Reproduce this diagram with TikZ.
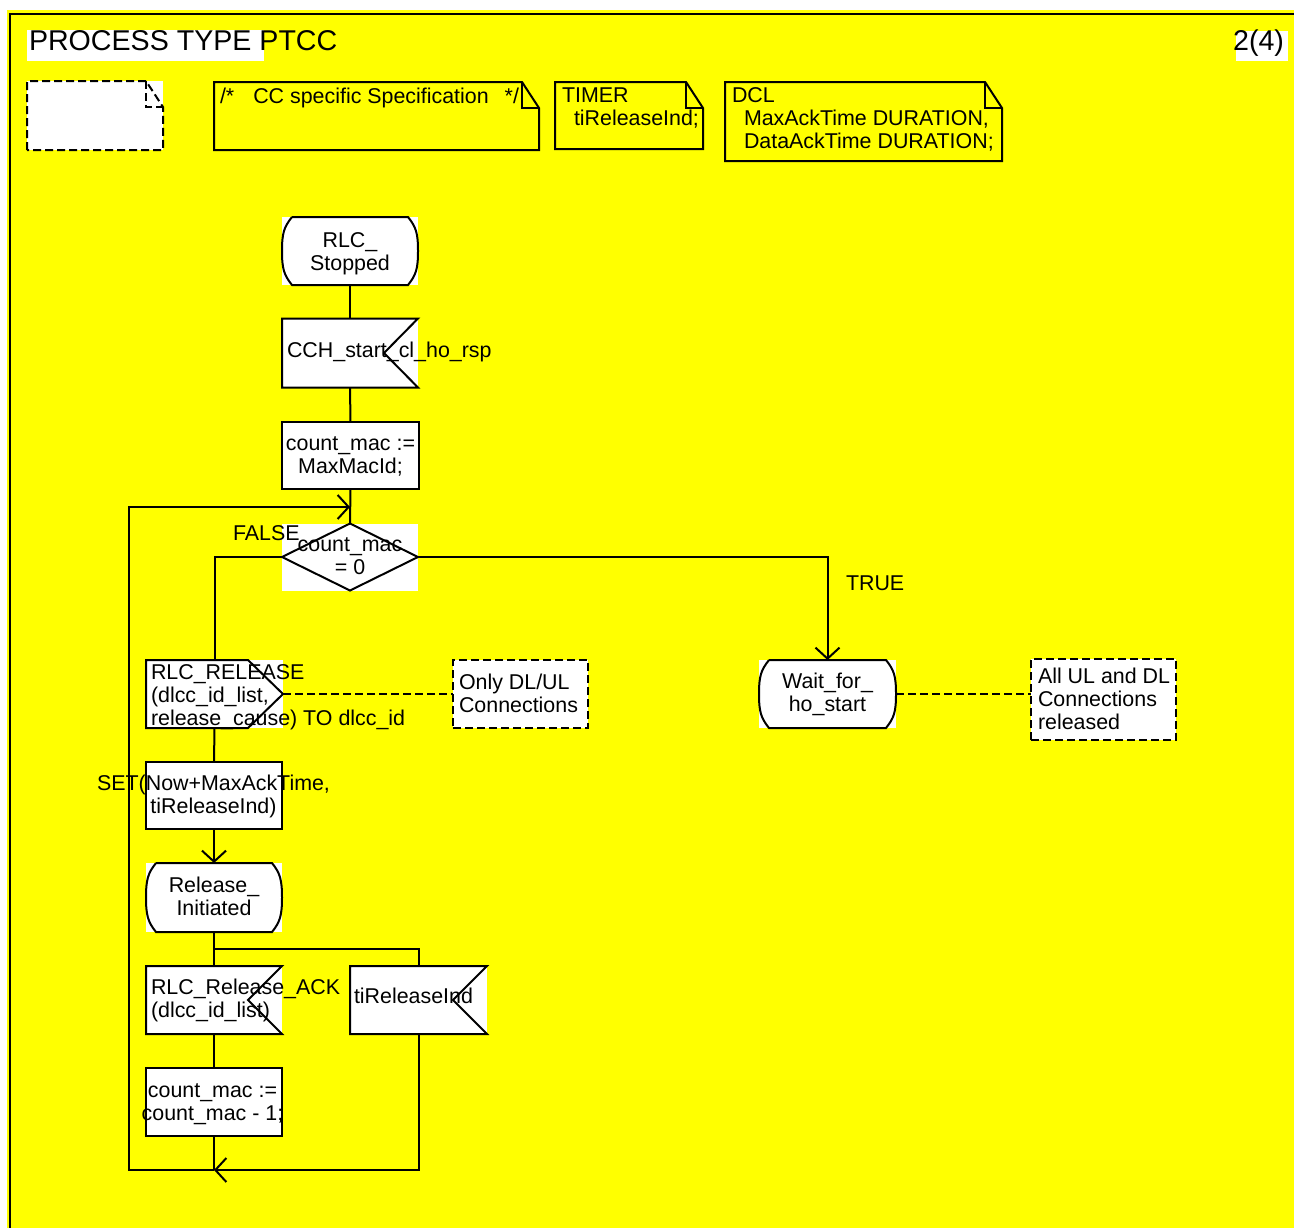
\documentclass[tikz,border=0pt]{standalone}
\usepackage{fontspec}
\setmainfont{Liberation Sans}
\usetikzlibrary{arrows.meta,calc}
\definecolor{bgyellow}{RGB}{255,255,0}
\newcommand\sdlstate[1]{\draw ($(#1.north west)+(10,0)$) -- ($(#1.north east)+(-10,0)$) .. controls +(8,10) and +(0,-18) .. (#1.east) .. controls +(0,18) and +(8,-10) .. ($(#1.south east)+(-10,0)$) -- ($(#1.south west)+(10,0)$) .. controls +(-8,-10) and +(0,18) .. (#1.west) .. controls +(0,-18) and +(-8,10) .. ($(#1.north west)+(10,0)$);}
\newcommand\sdlinput[1]{\draw (#1.north west) -- (#1.north east) -- ($(#1.east)+(-34,0)$) -- (#1.south east) -- (#1.south west) -- cycle;}
\newcommand\sdloutput[1]{\draw (#1.north west) -- ($(#1.north east)+(-35,0)$) -- (#1.east) -- ($(#1.south east)+(-35,0)$) -- (#1.south west) -- cycle;}
\newcommand\sdlnote[2][]{\draw[#1] (#2.south west) -- (#2.north west) -- ($(#2.north east)+(-17,0)$) -- ($(#2.north east)+(0,26)$) -- (#2.south east) -- cycle;
  \draw[#1] ($(#2.north east)+(-17,0)$) |- ($(#2.north east)+(0,26)$);}
\begin{document}
\begin{tikzpicture}[x=0.5pt,y=-0.5pt,line width=1pt,
  txt/.style={font=\fontsize{10.7}{11.5}\selectfont,inner sep=0pt,align=left},
  ctxt/.style={txt,align=center},
  area/.style={inner sep=0pt,outer sep=0pt,fill=white,draw=none},
  plain/.style={inner sep=0pt,outer sep=0pt,draw=none},
  dsh/.style={dash pattern=on 4pt off 2pt},
  arr/.style={-{Straight Barb[length=5.5pt,width=12pt]}}]
\useasboundingbox (0,0) rectangle (1294,1227);
\fill[white] (0,0) rectangle (1294,1227);
\fill[bgyellow] (7,10) rectangle (1300,1240);
\draw (10,14) rectangle (1310,1250);
% title
\fill[white] (27,30) rectangle (264,61);
\node[inner sep=0pt,anchor=base west,font=\fontsize{14.3}{17}\selectfont] (title) at (28,50.7) {PROCESS TYPE PTCC};
\fill[white] (1236,31) rectangle (1288,61);
\node[inner sep=0pt,anchor=base east,font=\fontsize{14.3}{17}\selectfont] (page) at (1285,50.5) {2(4)};
% notes
\node[area,minimum width=68pt,minimum height=34.5pt] (n0) at (95,115.5) {};
\sdlnote[dsh]{n0}
\node[plain,minimum width=162.5pt,minimum height=34pt] (n1) at (376.5,116) {};
\sdlnote{n1}
\node[txt,anchor=base west] (n1t) at (219,103) {/*\hspace{9.5pt}CC specific Specification\hspace{8pt}*/};
\node[plain,minimum width=74pt,minimum height=33.5pt] (n2) at (629,115.5) {};
\sdlnote{n2}
\node[txt,anchor=base west] (n2t) at (561,125.5) {TIMER\\\hspace{6pt}tiReleaseInd;};
\node[plain,minimum width=138.5pt,minimum height=39.5pt] (n3) at (863.5,121.5) {};
\sdlnote{n3}
\node[txt,anchor=base west] (n3t) at (731,148.5) {DCL\\\hspace{6pt}MaxAckTime DURATION,\\\hspace{6pt}DataAckTime DURATION;};
% flow symbols
\node[area,minimum width=68pt,minimum height=34pt] (s1) at (350,251) {};
\sdlstate{s1}
\node[ctxt,anchor=base] (s1t) at (350,270) {RLC\_\\Stopped};
\node[area,minimum width=68pt,minimum height=34.5pt] (i1) at (350,353) {};
\sdlinput{i1}
\node[txt,anchor=base west] (i1t) at (286,357) {CCH\_start\_cl\_ho\_rsp};
\node[area,draw,minimum width=68.5pt,minimum height=33.5pt] (t1) at (350.5,455.5) {};
\node[ctxt,anchor=base] (t1t) at (350.5,473) {count\_mac :=\\MaxMacId;};
\node[area,minimum width=68pt,minimum height=33.5pt] (d1) at (350,557) {};
\draw (d1.north) -- (d1.east) -- (d1.south) -- (d1.west) -- cycle;
\node[ctxt,anchor=base] (d1t) at (350,574.5) {count\_mac\\= 0};
\node[txt,anchor=base west] (fl) at (232,540) {FALSE};
\node[txt,anchor=base west] (tr) at (845,590) {TRUE};
\node[area,minimum width=68.5pt,minimum height=34pt] (o1) at (214.5,694) {};
\sdloutput{o1}
\node[txt,anchor=base west] (o1t) at (150,725) {RLC\_RELEASE\\(dlcc\_id\_list,\\release\_cause) TO dlcc\_id};
\node[area,draw,dsh,minimum width=67.5pt,minimum height=34pt] (c1) at (520.5,694) {};
\node[txt,anchor=base west] (c1t) at (458,712) {Only DL/UL\\Connections};
\node[area,minimum width=68.5pt,minimum height=34pt] (s2) at (827.5,694) {};
\sdlstate{s2}
\node[ctxt,anchor=base] (s2t) at (827.5,711) {Wait\_for\_\\ho\_start};
\node[area,draw,dsh,minimum width=72.5pt,minimum height=40.5pt] (c2) at (1103.5,699.5) {};
\node[txt,anchor=base west] (c2t) at (1037,729) {All UL and DL\\Connections\\released};
\node[area,draw,minimum width=68pt,minimum height=33.5pt] (t2) at (214,795.5) {};
\node[ctxt,anchor=base] (t2t) at (213.5,813) {SET(Now+MaxAckTime,\\tiReleaseInd)};
\node[area,minimum width=68pt,minimum height=34.5pt] (s3) at (214,897.5) {};
\sdlstate{s3}
\node[ctxt,anchor=base] (s3t) at (214,915) {Release\_\\Initiated};
\node[area,minimum width=68pt,minimum height=34pt] (i2) at (214,1000) {};
\sdlinput{i2}
\node[txt,anchor=base west] (i2t) at (150,1017) {RLC\_Release\_ACK\\(dlcc\_id\_list)};
\node[area,minimum width=68.5pt,minimum height=34pt] (i3) at (418.5,1000) {};
\sdlinput{i3}
\node[txt,anchor=base west] (i3t) at (353,1003) {tiReleaseInd};
\node[area,draw,minimum width=68pt,minimum height=34pt] (t3) at (214,1102) {};
\node[ctxt,anchor=base] (t3t) at (212.5,1120) {count\_mac :=\\count\_mac - 1;};
% connectors
\coordinate (br) at (214,949);
\coordinate (m) at (214,1170);
\coordinate (lb) at (129,1170);
\coordinate (lt) at (129,507);
\coordinate (j) at (350,507);
\draw (s1.south) -- (i1.north);
\draw (i1.south) -- (t1.north);
\draw (t1.south) -- (d1.north);
\draw (d1.west) -| (o1.north);
\draw[arr] (d1.east) -| (s2.north);
\draw[dsh] (o1.east) -- (c1.west);
\draw[dsh] (s2.east) -- (s2.east -| c2.west);
\draw (o1.south) -- (t2.north);
\draw[arr] (t2.south) -- (s3.north);
\draw (s3.south) -- (i2.north);
\draw (br) -| (i3.north);
\draw (i2.south) -- (t3.north);
\draw (t3.south) -- (m);
\draw[arr] (i3.south) |- (m);
\draw[arr] (m) -- (lb) -- (lt) -- (j);
\end{tikzpicture}
\end{document}
